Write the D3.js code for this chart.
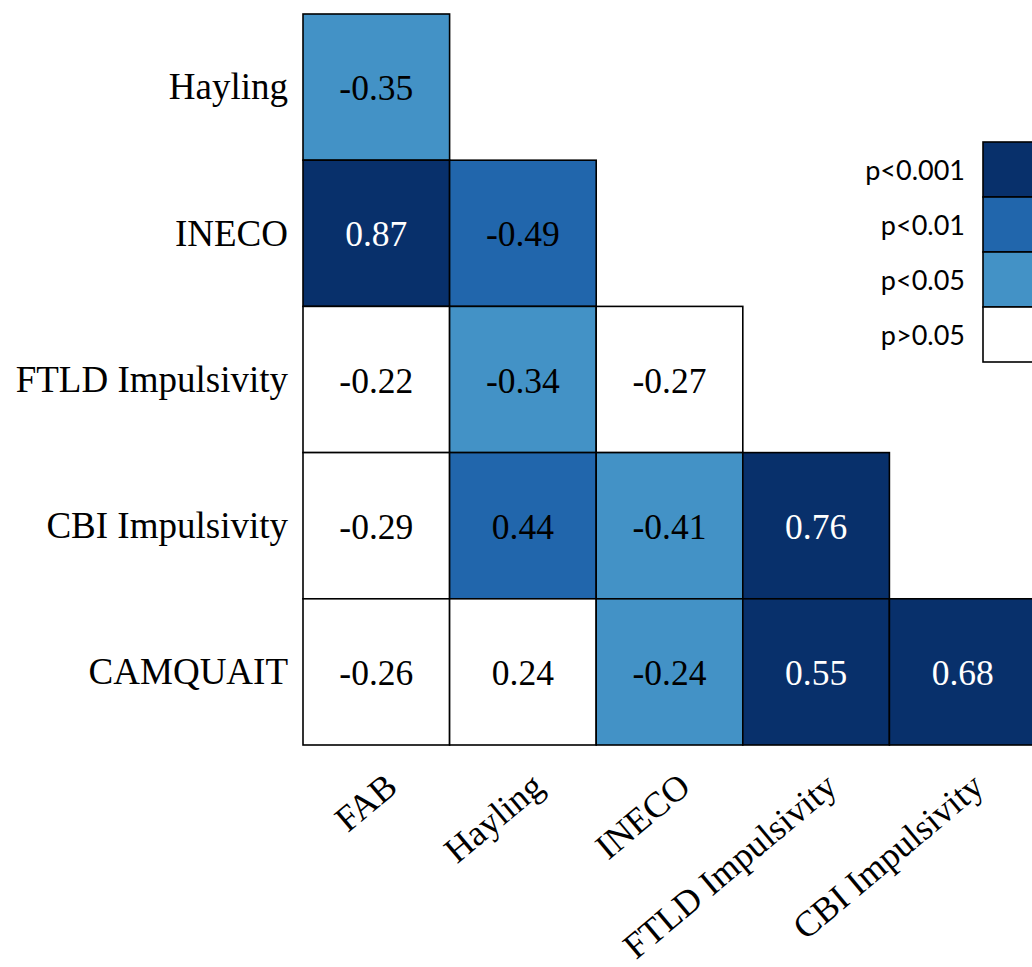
<!DOCTYPE html>
<html>
<head>
<meta charset="utf-8">
<script src="https://cdn.jsdelivr.net/npm/d3@7"></script>
<style>
  html, body { margin: 0; padding: 0; background: #fff; overflow: hidden; }
  svg { display: block; }
</style>
</head>
<body>
<svg id="chart" width="1032" height="967"></svg>
<script>
// Variables along each axis of the lower-triangular correlation matrix
const rowNames = ["Hayling", "INECO", "FTLD Impulsivity", "CBI Impulsivity", "CAMQUAIT"];
const colNames = ["FAB", "Hayling", "INECO", "FTLD Impulsivity", "CBI Impulsivity"];

// Correlation coefficients, one array per row (row i has i+1 entries)
const rHayling  = [-0.35];
const rINECO    = [0.87, -0.49];
const rFTLD     = [-0.22, -0.34, -0.27];
const rCBI      = [-0.29, 0.44, -0.41, 0.76];
const rCAMQUAIT = [-0.26, 0.24, -0.24, 0.55, 0.68];

// Significance class of each coefficient
const sHayling  = ["p<0.05"];
const sINECO    = ["p<0.001", "p<0.01"];
const sFTLD     = ["p>0.05", "p<0.05", "p>0.05"];
const sCBI      = ["p>0.05", "p<0.01", "p<0.05", "p<0.001"];
const sCAMQUAIT = ["p>0.05", "p>0.05", "p<0.05", "p<0.001", "p<0.001"];

// Legend categories
const sigLevels = ["p<0.001", "p<0.01", "p<0.05", "p>0.05"];

const rowValues = [rHayling, rINECO, rFTLD, rCBI, rCAMQUAIT];
const rowSigs = [sHayling, sINECO, sFTLD, sCBI, sCAMQUAIT];

const cells = [];
rowValues.forEach((vals, i) => {
  vals.forEach((v, j) => {
    cells.push({ row: rowNames[i], col: colNames[j], value: v, sig: rowSigs[i][j] });
  });
});

// Plain hyphen for negative numbers
const fmt = d3.formatLocale({ decimal: ".", thousands: ",", grouping: [3], currency: ["", ""], minus: "-" }).format(".2f");

const svg = d3.select("#chart");

const x = d3.scaleBand().domain(colNames).range([303, 1036]).padding(0);
const y = d3.scaleBand().domain(rowNames).range([14, 745]).padding(0);

const fill = d3.scaleOrdinal()
  .domain(sigLevels)
  .range(["#08306b", "#2166ac", "#4392c6", "#ffffff"]);
const textColor = d3.scaleOrdinal()
  .domain(sigLevels)
  .range(["#ffffff", "#000000", "#000000", "#000000"]);

const serif = "'Liberation Serif', 'Times New Roman', serif";

// Matrix cells
const g = svg.append("g");
g.selectAll("rect.cell")
  .data(cells)
  .enter().append("rect")
  .attr("class", "cell")
  .attr("x", d => x(d.col))
  .attr("y", d => y(d.row))
  .attr("width", x.bandwidth())
  .attr("height", y.bandwidth())
  .attr("fill", d => fill(d.sig))
  .attr("stroke", "#000")
  .attr("stroke-width", 1.6);

g.selectAll("text.val")
  .data(cells)
  .enter().append("text")
  .attr("class", "val")
  .attr("x", d => x(d.col) + x.bandwidth() / 2)
  .attr("y", d => y(d.row) + y.bandwidth() / 2)
  .attr("dy", "0.37em")
  .attr("text-anchor", "middle")
  .attr("font-family", serif)
  .attr("font-size", 35.5)
  .attr("fill", d => textColor(d.sig))
  .text(d => fmt(d.value));

// Row labels
svg.append("g")
  .selectAll("text")
  .data(rowNames)
  .enter().append("text")
  .attr("x", 288)
  .attr("y", d => y(d) + y.bandwidth() / 2)
  .attr("dy", "0.33em")
  .attr("text-anchor", "end")
  .attr("font-family", serif)
  .attr("font-size", 37)
  .attr("fill", "#000")
  .text(d => d);

// Column labels, slanted
svg.append("g")
  .selectAll("text")
  .data(colNames)
  .enter().append("text")
  .attr("transform", d => `translate(${x(d) + x.bandwidth() / 2 + 23},${790}) rotate(-40)`)
  .attr("text-anchor", "end")
  .attr("font-family", serif)
  .attr("font-size", 36)
  .attr("fill", "#000")
  .text(d => d);

// Significance legend
const ly = d3.scaleBand().domain(sigLevels).range([142, 362]).padding(0);
const legend = svg.append("g");
legend.selectAll("rect")
  .data(sigLevels)
  .enter().append("rect")
  .attr("x", 983)
  .attr("y", d => ly(d))
  .attr("width", 70)
  .attr("height", ly.bandwidth())
  .attr("fill", d => fill(d))
  .attr("stroke", "#000")
  .attr("stroke-width", 1.6);
legend.selectAll("text")
  .data(sigLevels)
  .enter().append("text")
  .attr("x", 965)
  .attr("y", d => ly(d) + ly.bandwidth() / 2)
  .attr("dy", "0.38em")
  .attr("text-anchor", "end")
  .attr("font-family", "Lato, 'Open Sans', sans-serif")
  .attr("font-size", 27)
  .attr("fill", "#000")
  .text(d => d);
</script>
</body>
</html>
